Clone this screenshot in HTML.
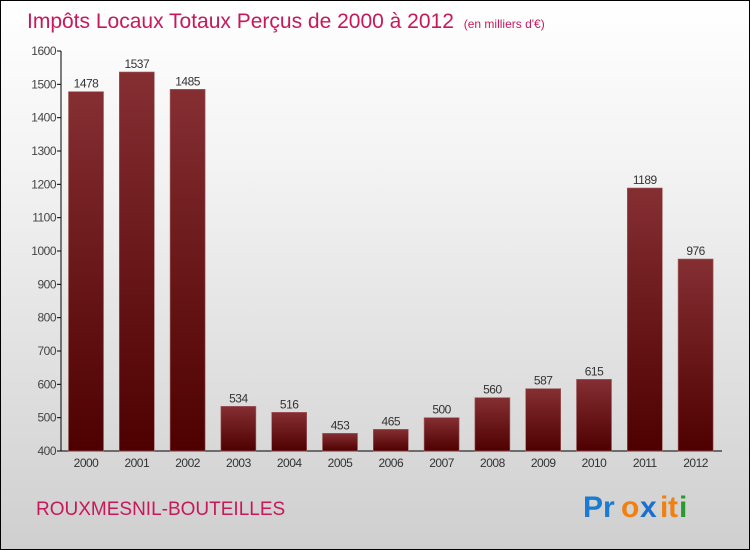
<!DOCTYPE html>
<html><head><meta charset="utf-8"><style>
body{margin:0}
#c{position:relative;width:748px;height:548px;border:1px solid #000;background:linear-gradient(#fff,#f3f3f3 30%,#cfcfcf);font-family:"Liberation Sans",sans-serif;overflow:hidden}
</style></head><body>
<div id="c">
<svg width="748" height="548">
<defs><linearGradient id="g" x1="0" y1="0" x2="0" y2="1"><stop offset="0" stop-color="#852f33"/><stop offset="1" stop-color="#4e0000"/></linearGradient></defs>
<text x="26" y="27" font-size="21" fill="#c8185a">Impôts Locaux Totaux Perçus de 2000 à 2012 <tspan font-size="12" fill="#c8185a" dx="4">(en milliers d'€)</tspan></text>
<g id="axes"></g><g id="bars"></g>
<text x="35" y="514" font-size="19" fill="#c8185a">ROUXMESNIL-BOUTEILLES</text>
<g font-size="30" font-family="'Liberation Sans',sans-serif" font-weight="bold"><text x="582" y="516" fill="#1a7bd0">Pr</text><text x="620" y="516" fill="#f08010">o</text><text x="639" y="516" fill="#1a6fd0">x</text><text x="659" y="516" fill="#f08010">i</text><text x="667" y="516" fill="#f08010">t</text><text x="678" y="516" fill="#2a9a30">i</text></g>
</svg></div>
<script>
const years=["2000","2001","2002","2003","2004","2005","2006","2007","2008","2009","2010","2011","2012"];
const values=[1478,1537,1485,534,516,453,465,500,560,587,615,1189,976];
const yTicks=[400,500,600,700,800,900,1000,1100,1200,1300,1400,1500,1600];
const NS="http://www.w3.org/2000/svg";
const y=v=>450-(v-400)*(400/1200);
const x=i=>85+i*50.8;
function mk(t,a,p,txt){const e=document.createElementNS(NS,t);for(const k in a)e.setAttribute(k,a[k]);if(txt!==undefined)e.textContent=txt;p.appendChild(e);return e;}
const ax=document.getElementById('axes'),bg=document.getElementById('bars');
let l=mk('line',{x1:60,y1:50,x2:60,y2:450,stroke:'#000'},ax);


l=mk('line',{x1:60,y1:450,x2:721,y2:450,stroke:'#000'},ax);


yTicks.forEach(v=>{
 mk('line',{x1:56,x2:60,y1:y(v),y2:y(v),stroke:'#000'},ax);
 const t=mk('text',{x:55,y:y(v)+4,'font-size':12,'text-anchor':'end',fill:'#444','letter-spacing':'-0.5'},ax,v);
 
 
});
years.forEach((yr,i)=>{
 const v=values[i];
 const r=mk('rect',{x:x(i)-17.5,y:y(v),width:35,height:450-y(v),fill:'url(#g)',stroke:'#a06060','stroke-width':0.6},bg);
 
 
 const vt=mk('text',{x:x(i),y:y(v)-4,'font-size':12,'text-anchor':'middle',fill:'#333','letter-spacing':'-0.5'},bg,v);
 
 
 const xt=mk('text',{x:x(i),y:466,'font-size':12,'text-anchor':'middle',fill:'#333','letter-spacing':'-0.5'},bg,yr);
 
 
});
</script>
</body></html>
